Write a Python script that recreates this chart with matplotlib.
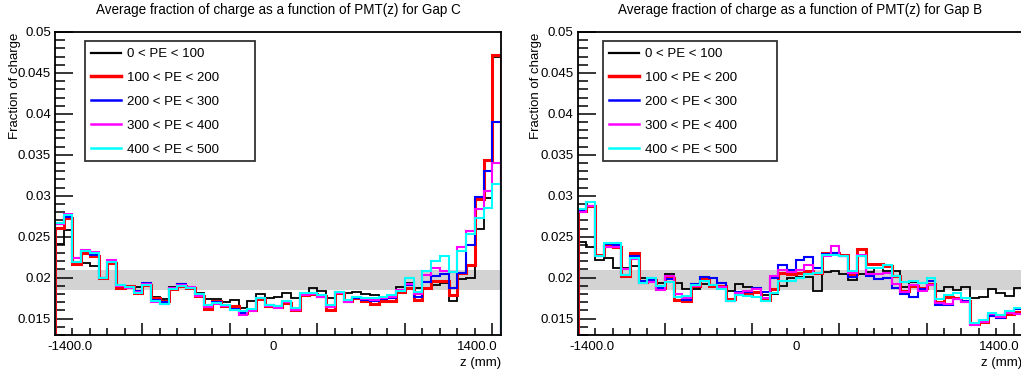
import numpy as np
import matplotlib
matplotlib.use("Agg")
import matplotlib.pyplot as plt
from matplotlib.patches import Rectangle
from matplotlib.ticker import MultipleLocator, NullFormatter

plt.rcParams['font.family'] = ['Liberation Sans', 'DejaVu Sans']

# bin edges in z (mm), 51 bins of 60 mm
edges = np.arange(-1500, 1561, 60)

labels = ['0 < PE < 100', '100 < PE < 200', '200 < PE < 300',
          '300 < PE < 400', '400 < PE < 500']
colors = ['black', '#ff0000', '#0000ff', '#ff00ff', '#00ffff']
widths = [1.3, 2.2, 1.5, 1.5, 1.5]

# Gap C
gapC_0_100 = [0.0241, 0.0258, 0.0217, 0.0218, 0.0214, 0.0200, 0.0218, 0.0191, 0.0189, 0.0189,
              0.0191, 0.0177, 0.0174, 0.0189, 0.0191, 0.0187, 0.0181, 0.0174, 0.0174, 0.0170,
              0.0173, 0.0163, 0.0172, 0.0180, 0.0175, 0.0177, 0.0181, 0.0175, 0.0181, 0.0187,
              0.0184, 0.0175, 0.0183, 0.0181, 0.0183, 0.0180, 0.0179, 0.0177, 0.0178, 0.0189,
              0.0194, 0.0188, 0.0187, 0.0191, 0.0194, 0.0172, 0.0198, 0.0200, 0.0259, 0.0297,
              0.0469]
gapC_100_200 = [0.0261, 0.0273, 0.0217, 0.0230, 0.0227, 0.0199, 0.0218, 0.0188, 0.0190, 0.0181,
                0.0191, 0.0175, 0.0171, 0.0186, 0.0190, 0.0188, 0.0178, 0.0162, 0.0171, 0.0165,
                0.0165, 0.0157, 0.0160, 0.0174, 0.0166, 0.0164, 0.0169, 0.0160, 0.0179, 0.0180,
                0.0178, 0.0161, 0.0181, 0.0171, 0.0175, 0.0172, 0.0168, 0.0171, 0.0171, 0.0182,
                0.0188, 0.0173, 0.0187, 0.0196, 0.0196, 0.0179, 0.0206, 0.0216, 0.0296, 0.0344,
                0.0472]
gapC_200_300 = [0.0265, 0.0274, 0.0219, 0.0232, 0.0228, 0.0200, 0.0219, 0.0190, 0.0189, 0.0184,
                0.0193, 0.0173, 0.0170, 0.0187, 0.0192, 0.0188, 0.0179, 0.0165, 0.0170, 0.0167,
                0.0162, 0.0157, 0.0160, 0.0175, 0.0167, 0.0165, 0.0170, 0.0161, 0.0180, 0.0180,
                0.0177, 0.0165, 0.0182, 0.0172, 0.0175, 0.0173, 0.0172, 0.0174, 0.0175, 0.0184,
                0.0191, 0.0177, 0.0195, 0.0202, 0.0204, 0.0187, 0.0206, 0.0240, 0.0299, 0.0330,
                0.0390]
gapC_300_400 = [0.0266, 0.0278, 0.0224, 0.0234, 0.0231, 0.0199, 0.0221, 0.0190, 0.0188, 0.0182,
                0.0192, 0.0170, 0.0168, 0.0187, 0.0191, 0.0189, 0.0178, 0.0164, 0.0168, 0.0166,
                0.0160, 0.0155, 0.0159, 0.0175, 0.0166, 0.0163, 0.0170, 0.0160, 0.0179, 0.0180,
                0.0177, 0.0164, 0.0181, 0.0170, 0.0176, 0.0174, 0.0173, 0.0175, 0.0176, 0.0185,
                0.0192, 0.0180, 0.0203, 0.0212, 0.0208, 0.0207, 0.0237, 0.0257, 0.0284, 0.0306,
                0.0340]
gapC_400_500 = [0.0267, 0.0276, 0.0219, 0.0233, 0.0230, 0.0200, 0.0219, 0.0191, 0.0189, 0.0181,
                0.0191, 0.0172, 0.0168, 0.0186, 0.0190, 0.0187, 0.0180, 0.0167, 0.0169, 0.0167,
                0.0161, 0.0159, 0.0162, 0.0175, 0.0167, 0.0166, 0.0171, 0.0163, 0.0181, 0.0181,
                0.0179, 0.0167, 0.0183, 0.0173, 0.0176, 0.0175, 0.0175, 0.0177, 0.0179, 0.0184,
                0.0199, 0.0183, 0.0208, 0.0220, 0.0226, 0.0207, 0.0232, 0.0253, 0.0273, 0.0285,
                0.0314]

# Gap B
gapB_0_100 = [0.0244, 0.0237, 0.0222, 0.0224, 0.0212, 0.0212, 0.0214, 0.0199, 0.0198, 0.0194,
              0.0204, 0.0194, 0.0186, 0.0186, 0.0192, 0.0191, 0.0189, 0.0184, 0.0192, 0.0189,
              0.0187, 0.0179, 0.0180, 0.0190, 0.0200, 0.0201, 0.0201, 0.0184, 0.0207, 0.0208,
              0.0205, 0.0197, 0.0205, 0.0207, 0.0212, 0.0208, 0.0208, 0.0189, 0.0195, 0.0193,
              0.0196, 0.0184, 0.0189, 0.0185, 0.0189, 0.0175, 0.0176, 0.0186, 0.0181, 0.0178,
              0.0188]
gapB_100_200 = [0.0282, 0.0288, 0.0228, 0.0239, 0.0237, 0.0202, 0.0230, 0.0195, 0.0197, 0.0188,
                0.0200, 0.0173, 0.0171, 0.0190, 0.0198, 0.0190, 0.0190, 0.0174, 0.0180, 0.0180,
                0.0182, 0.0173, 0.0186, 0.0206, 0.0204, 0.0206, 0.0208, 0.0206, 0.0230, 0.0230,
                0.0228, 0.0204, 0.0235, 0.0217, 0.0217, 0.0214, 0.0202, 0.0184, 0.0190, 0.0187,
                0.0192, 0.0170, 0.0177, 0.0175, 0.0171, 0.0143, 0.0146, 0.0154, 0.0152, 0.0156,
                0.0158]
gapB_200_300 = [0.0282, 0.0287, 0.0226, 0.0241, 0.0240, 0.0203, 0.0227, 0.0196, 0.0197, 0.0187,
                0.0198, 0.0176, 0.0173, 0.0192, 0.0201, 0.0199, 0.0194, 0.0172, 0.0182, 0.0183,
                0.0188, 0.0183, 0.0199, 0.0215, 0.0209, 0.0222, 0.0225, 0.0212, 0.0229, 0.0230,
                0.0227, 0.0201, 0.0227, 0.0202, 0.0198, 0.0199, 0.0188, 0.0180, 0.0177, 0.0186,
                0.0196, 0.0167, 0.0167, 0.0174, 0.0171, 0.0143, 0.0147, 0.0153, 0.0151, 0.0157,
                0.0162]
gapB_300_400 = [0.0280, 0.0288, 0.0227, 0.0238, 0.0237, 0.0211, 0.0223, 0.0194, 0.0195, 0.0185,
                0.0202, 0.0180, 0.0175, 0.0190, 0.0196, 0.0191, 0.0189, 0.0172, 0.0181, 0.0184,
                0.0186, 0.0175, 0.0202, 0.0209, 0.0207, 0.0209, 0.0216, 0.0206, 0.0226, 0.0239,
                0.0227, 0.0206, 0.0228, 0.0204, 0.0204, 0.0206, 0.0192, 0.0183, 0.0191, 0.0184,
                0.0191, 0.0169, 0.0168, 0.0174, 0.0170, 0.0142, 0.0146, 0.0156, 0.0152, 0.0157,
                0.0156]
gapB_400_500 = [0.0284, 0.0293, 0.0226, 0.0242, 0.0242, 0.0203, 0.0224, 0.0194, 0.0200, 0.0190,
                0.0195, 0.0177, 0.0178, 0.0191, 0.0196, 0.0191, 0.0186, 0.0171, 0.0179, 0.0178,
                0.0176, 0.0171, 0.0181, 0.0196, 0.0196, 0.0199, 0.0204, 0.0206, 0.0228, 0.0228,
                0.0227, 0.0208, 0.0226, 0.0212, 0.0212, 0.0216, 0.0202, 0.0195, 0.0196, 0.0194,
                0.0200, 0.0174, 0.0179, 0.0181, 0.0175, 0.0145, 0.0148, 0.0157, 0.0154, 0.0159,
                0.0163]

gapC = [gapC_0_100, gapC_100_200, gapC_200_300, gapC_300_400, gapC_400_500]
gapB = [gapB_0_100, gapB_100_200, gapB_200_300, gapB_300_400, gapB_400_500]

# expected band around 1/51
band_lo, band_hi = 0.0185, 0.0209
xlabels_pos = [-1400, 0, 1400]
xlabels_txt = ['-1400.0', '0', '1400.0']

W, H = 1021, 373
fig = plt.figure(figsize=(W / 100, H / 100), dpi=100)

# series, gap name, axes x range (px), ylabel x (px), legend box x range (px)
panels = [
    (gapC, 'Gap C', [55, 501], 15, [85, 255]),
    (gapB, 'Gap B', [577.7, 1022.5], 536, [603, 777]),
]

for series, gap, (x0, x1), ylab_x, (lx0, lx1) in panels:
    pw = x1 - x0
    ax = fig.add_axes([x0 / W, (H - 335) / H, pw / W, 303 / H])
    ax.axhspan(band_lo, band_hi, color='#d3d3d3', lw=0, zorder=0)
    for vals, lab, c, lw in zip(series, labels, colors, widths):
        ax.stairs(vals, edges, baseline=0, color=c, lw=lw, label=lab, zorder=2)

    ax.set_xlim(edges[0], edges[-1])
    ax.set_ylim(0.013, 0.05)
    ax.yaxis.set_minor_locator(MultipleLocator(0.001))
    ax.set_yticks([0.015, 0.02, 0.025, 0.03, 0.035, 0.04, 0.045, 0.05])
    ax.set_yticklabels(['0.015', '0.02', '0.025', '0.03', '0.035', '0.04', '0.045', '0.05'])
    ax.set_xticks(edges[10::10])
    ax.set_xticks(edges[2::2], minor=True)
    ax.xaxis.set_major_formatter(NullFormatter())
    ax.tick_params(axis='both', which='both', direction='in', top=False, right=False,
                   labelsize=9.5, width=1.1)
    ax.tick_params(axis='y', which='major', length=13, pad=3)
    ax.tick_params(axis='y', which='minor', length=7)
    ax.tick_params(axis='x', which='major', length=9)
    ax.tick_params(axis='x', which='minor', length=5)
    for s in ax.spines.values():
        s.set_linewidth(1.3)

    for xp, xt in zip(xlabels_pos, xlabels_txt):
        ax.text(xp, -0.04, xt, transform=ax.get_xaxis_transform(),
                ha='center', va='center', fontsize=9.5)
    ax.text(1.0, -0.093, 'z (mm)', transform=ax.transAxes,
            ha='right', va='center', fontsize=9.5)

    fig.text((x0 + x1) / 2 / W, 1 - 10 / H,
             'Average fraction of charge as a function of PMT(z) for ' + gap,
             ha='center', va='center', fontsize=9.75)
    fig.text(ylab_x / W, 1 - 33 / H, 'Fraction of charge', rotation=90,
             ha='center', va='top', fontsize=9.5)

    # legend box drawn separately (ROOT style, wide right margin)
    box = Rectangle(((lx0 - x0) / pw, (335 - 161) / 303), (lx1 - lx0) / pw, 120 / 303,
                    transform=ax.transAxes, facecolor='white', edgecolor='#333333',
                    lw=1.3, zorder=4)
    ax.add_patch(box)
    leg = ax.legend(loc='upper left', bbox_to_anchor=((lx0 + 6 - x0) / pw, (335 - 48) / 303),
                    fontsize=9.5, frameon=False, handlelength=2.3, handletextpad=0.45,
                    labelspacing=0.88, borderpad=0, borderaxespad=0)
    leg.set_zorder(5)
    for h, lw in zip(leg.get_lines(), widths):
        h.set_linewidth(lw + 0.3)

fig.savefig('out.png', dpi=100)
